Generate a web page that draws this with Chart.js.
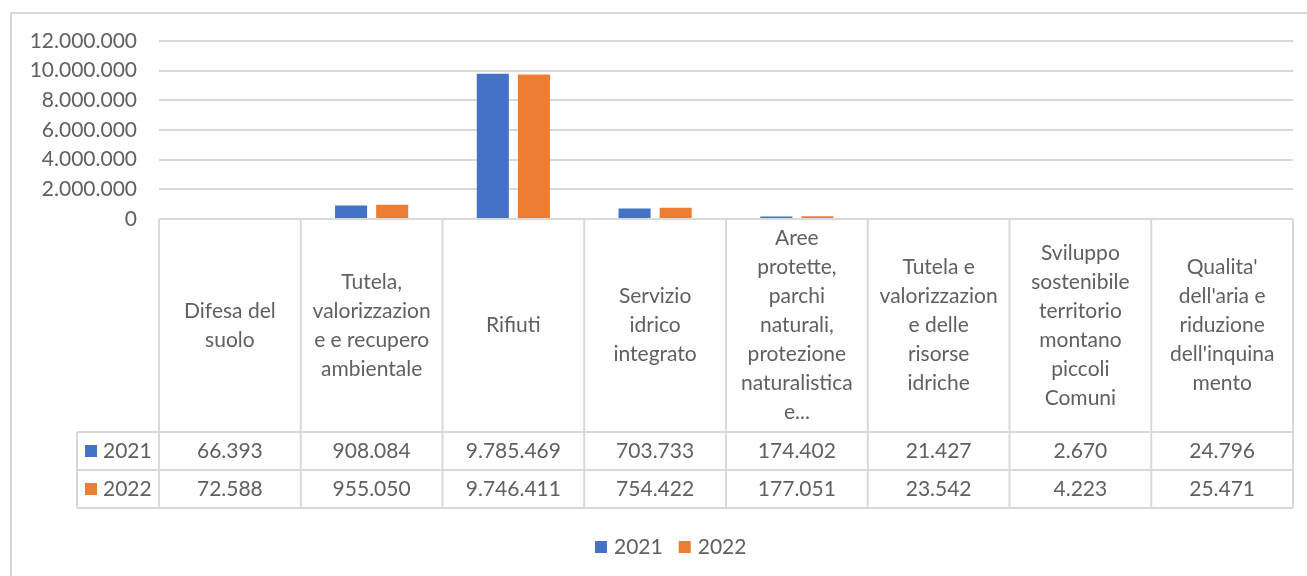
<!DOCTYPE html>
<html>
<head>
<meta charset="utf-8">
<script src="https://cdn.jsdelivr.net/npm/chart.js@4.4.1/dist/chart.umd.min.js"></script>
<style>
  html, body { margin: 0; padding: 0; background: #fff; }
  #wrap { position: relative; width: 1307px; height: 576px; }
  #frame { position: absolute; left: 10px; top: 12px; width: 1320px; height: 600px; border: 2px solid #d9d9d9; box-sizing: border-box; }
  canvas { position: absolute; left: 0; top: 0; }
</style>
</head>
<body>
<div id="wrap">
  <div id="frame"></div>
  <canvas id="chart" width="1307" height="576"></canvas>
</div>
<script>
// categories, already wrapped as in the original table header
const categories = [
    ['Difesa del', 'suolo'],
    ['Tutela,', 'valorizzazion', 'e e recupero', 'ambientale'],
    ['Rifiuti'],
    ['Servizio', 'idrico', 'integrato'],
    ['Aree', 'protette,', 'parchi', 'naturali,', 'protezione', 'naturalistica', 'e...'],
    ['Tutela e', 'valorizzazion', 'e delle', 'risorse', 'idriche'],
    ['Sviluppo', 'sostenibile', 'territorio', 'montano', 'piccoli', 'Comuni'],
    ["Qualita'", "dell'aria e", 'riduzione', "dell'inquina", 'mento']
];
const values2021 = [66393, 908084, 9785469, 703733, 174402, 21427, 2670, 24796];
const values2022 = [72588, 955050, 9746411, 754422, 177051, 23542, 4223, 25471];
const seriesNames = ['2021', '2022'];
const yTicks = [0, 2000000, 4000000, 6000000, 8000000, 10000000, 12000000];

const FONT = 'Lato, "Noto Sans", sans-serif';
const FONT_SIZE = 21;
const TEXT = '#606060';
const LINE = '#d9d9d9';

// 1234567 -> 1.234.567
function fmt(v) {
    return String(Math.round(v)).replace(/\B(?=(\d{3})+(?!\d))/g, '.');
}

// data table + legend drawn under the plot, on the x scale positions
const tablePlugin = {
    id: 'dataTable',
    afterDraw(chart) {
        const ctx = chart.ctx;
        const x = chart.scales.x;
        const area = chart.chartArea;
        const colW = (area.right - area.left) / categories.length;
        const headTop = area.bottom;
        const headBottom = 432;
        const rowH = 38;
        const labelLeft = 77;
        const tableBottom = headBottom + rowH * 2;

        ctx.save();
        ctx.strokeStyle = LINE;
        ctx.lineWidth = 2;
        ctx.beginPath();
        // horizontal lines
        ctx.moveTo(area.left, headTop); ctx.lineTo(area.right, headTop);
        for (let r = 0; r <= 2; r++) {
            const yy = headBottom + r * rowH;
            ctx.moveTo(labelLeft, yy); ctx.lineTo(area.right, yy);
        }
        // vertical lines
        for (let i = 0; i <= categories.length; i++) {
            const xx = area.left + i * colW;
            ctx.moveTo(xx, headTop); ctx.lineTo(xx, tableBottom);
        }
        ctx.moveTo(labelLeft, headBottom); ctx.lineTo(labelLeft, tableBottom);
        ctx.stroke();

        ctx.fillStyle = TEXT;
        ctx.font = FONT_SIZE + 'px ' + FONT;
        ctx.textAlign = 'center';
        ctx.textBaseline = 'middle';
        const lh = 29;
        const headMid = (headTop + headBottom) / 2;
        categories.forEach((lines, i) => {
            const cx = x.getPixelForValue(i);
            const y0 = headMid - (lines.length - 1) * lh / 2;
            lines.forEach((t, k) => ctx.fillText(t, cx, y0 + k * lh));
            ctx.fillText(fmt(values2021[i]), cx, headBottom + rowH / 2);
            ctx.fillText(fmt(values2022[i]), cx, headBottom + rowH * 1.5);
        });

        // series labels in the first column
        chart.data.datasets.forEach((ds, d) => {
            const cy = headBottom + rowH * (d + 0.5);
            ctx.fillStyle = ds.backgroundColor;
            ctx.fillRect(85, cy - 6, 12, 12);
            ctx.fillStyle = TEXT;
            ctx.textAlign = 'left';
            ctx.fillText(ds.label, 103, cy);
        });

        // legend
        const ly = 547;
        let lx = 595;
        chart.data.datasets.forEach((ds) => {
            ctx.fillStyle = ds.backgroundColor;
            ctx.fillRect(lx, ly - 6, 12, 12);
            ctx.fillStyle = TEXT;
            ctx.textAlign = 'left';
            ctx.fillText(ds.label, lx + 19, ly);
            lx += 19 + ctx.measureText(ds.label).width + 16;
        });
        ctx.restore();
    }
};

const ctx = document.getElementById('chart').getContext('2d');
new Chart(ctx, {
    type: 'bar',
    data: {
        labels: categories,
        datasets: [
            { label: seriesNames[0], data: values2021, backgroundColor: '#4472C4' },
            { label: seriesNames[1], data: values2022, backgroundColor: '#ED7D31' }
        ]
    },
    options: {
        responsive: false,
        animation: false,
        layout: { padding: { left: 0, right: 14, top: 41, bottom: 357 } },
        datasets: { bar: { categoryPercentage: 0.58, barPercentage: 0.78 } },
        plugins: { legend: { display: false }, tooltip: { enabled: false } },
        scales: {
            x: { display: false },
            y: {
                min: 0,
                max: 12000000,
                afterFit(scale) { scale.width = 159; },
                afterBuildTicks(scale) { scale.ticks = yTicks.map(v => ({ value: v })); },
                border: { display: false },
                grid: { color: LINE, lineWidth: 2, drawTicks: false },
                ticks: {
                    padding: 22,
                    color: TEXT,
                    font: { family: FONT, size: FONT_SIZE },
                    callback: (v) => fmt(v)
                }
            }
        }
    },
    plugins: [tablePlugin]
});
</script>
</body>
</html>
